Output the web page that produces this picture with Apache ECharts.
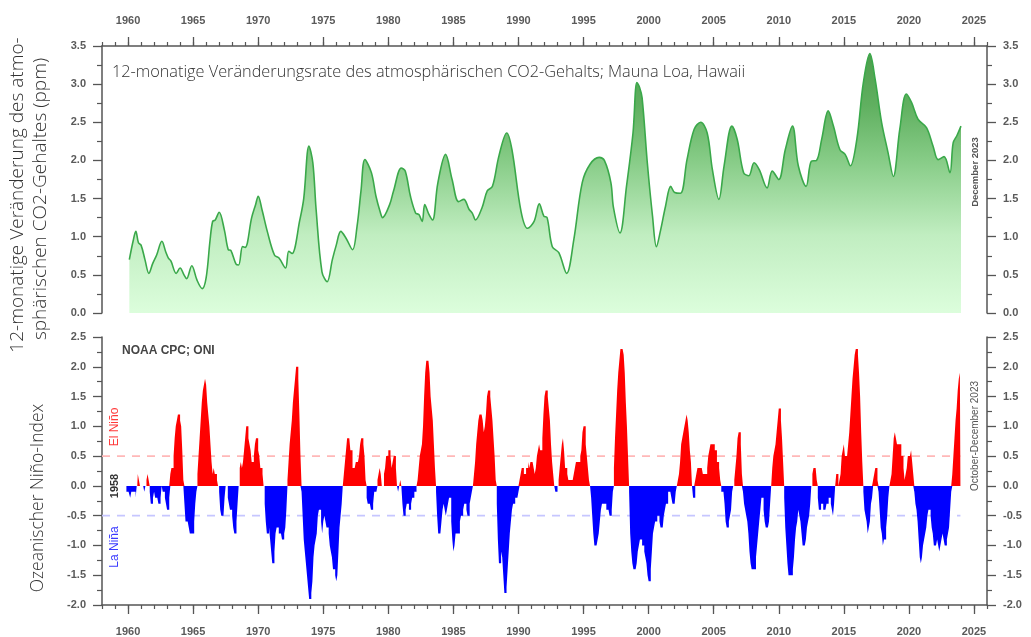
<!DOCTYPE html>
<html>
<head>
<meta charset="utf-8">
<script src="https://cdn.jsdelivr.net/npm/echarts@6/dist/echarts.min.js"></script>
<style>
html,body{margin:0;padding:0;background:#fff;}
#chart{width:1031px;height:637px;}
</style>
</head>
<body>
<div id="chart"></div>
<script>
// ---- Tick labels ----
const yearTicks = [1960,1965,1970,1975,1980,1985,1990,1995,2000,2005,2010,2015,2020,2025];
const xMin = 1958, xMax = 2026;

// ---- CO2 12-month growth rate, Mauna Loa (ppm/yr) ----
const co2Year = [1960.1,1960.4,1960.6,1960.8,1961.0,1961.3,1961.6,1961.9,1962.2,1962.6,1962.9,1963.1,1963.3,1963.7,1964.0,1964.3,1964.5,1964.9,1965.3,1965.7,1966.0,1966.3,1966.5,1966.7,1967.0,1967.4,1967.7,1967.9,1968.3,1968.5,1968.8,1969.0,1969.5,1969.8,1970.0,1970.3,1970.7,1971.25,1971.6,1972.1,1972.35,1972.6,1973.2,1973.5,1973.9,1974.2,1974.45,1974.9,1975.3,1975.7,1976.0,1976.35,1976.75,1977.25,1977.6,1977.9,1978.2,1978.7,1979.05,1979.4,1979.55,1980.1,1980.4,1981.0,1981.3,1981.7,1982.1,1982.35,1982.6,1982.8,1983.1,1983.4,1983.8,1984.4,1984.9,1985.4,1985.8,1986.2,1986.45,1986.7,1987.2,1987.6,1988.0,1988.5,1989.1,1989.5,1990.2,1990.7,1991.2,1991.6,1991.95,1992.2,1992.6,1993.1,1993.7,1994.25,1994.9,1995.5,1996.2,1996.6,1997.1,1997.3,1997.8,1998.3,1998.8,1999.1,1999.3,1999.5,1999.9,2000.3,2000.6,2000.9,2001.3,2001.7,2002.0,2002.45,2002.95,2003.5,2004.0,2004.5,2004.9,2005.4,2005.8,2006.4,2006.8,2007.3,2007.7,2008.1,2008.5,2009.1,2009.5,2010.0,2010.5,2011.05,2011.5,2012.1,2012.5,2012.9,2013.3,2013.8,2014.2,2014.7,2015.1,2015.5,2016.0,2016.5,2017.0,2017.4,2017.9,2018.4,2018.8,2019.3,2019.8,2020.2,2020.7,2021.35,2021.85,2022.25,2022.7,2023.15,2023.4,2023.7,2024.0];
const co2Rate = [0.70,0.95,1.07,0.92,0.89,0.70,0.52,0.65,0.76,0.94,0.80,0.72,0.68,0.52,0.59,0.50,0.45,0.62,0.43,0.32,0.46,0.95,1.20,1.22,1.32,1.09,0.83,0.82,0.64,0.63,0.87,0.86,1.25,1.42,1.53,1.35,1.07,0.76,0.72,0.59,0.81,0.78,1.22,1.50,2.19,1.97,1.36,0.54,0.41,0.70,0.89,1.07,0.98,0.83,1.14,1.60,2.01,1.84,1.53,1.31,1.25,1.42,1.60,1.90,1.86,1.53,1.31,1.29,1.20,1.42,1.30,1.22,1.70,2.08,1.75,1.46,1.49,1.36,1.31,1.22,1.38,1.60,1.66,2.06,2.36,2.14,1.33,1.11,1.20,1.43,1.27,1.25,0.87,0.79,0.52,0.96,1.71,1.95,2.04,2.00,1.71,1.38,1.05,1.66,2.36,3.02,2.96,2.82,1.97,1.27,0.87,1.07,1.40,1.66,1.58,1.57,2.01,2.41,2.50,2.36,1.88,1.49,1.93,2.45,2.28,1.84,1.80,1.97,1.88,1.64,1.86,1.75,2.14,2.45,1.93,1.66,1.99,2.00,2.28,2.65,2.45,2.14,2.08,1.93,2.28,3.02,3.40,3.07,2.50,2.10,1.79,2.41,2.87,2.76,2.54,2.43,2.19,2.01,2.05,1.84,2.23,2.33,2.45];

// ---- Oceanic Nino Index (3-month seasons), first value = SON 1959 ----
const oniFirstYear = 1959, oniFirstSeason = 9;
const oniValues = [
-0.1,-0.1,-0.1,
-0.1,-0.2,-0.1,-0.1,-0.1,-0.1,-0.2,0.0,0.2,0.1,0.0,0.0,
0.0,0.0,-0.1,0.0,0.1,0.2,0.1,-0.1,-0.3,-0.3,-0.2,-0.1,
-0.2,-0.2,-0.2,-0.3,-0.3,-0.2,0.0,-0.1,-0.1,-0.2,-0.3,-0.4,
-0.4,-0.2,0.2,0.3,0.3,0.5,0.8,1.0,1.1,1.2,1.2,1.1,
1.0,0.6,0.1,-0.3,-0.6,-0.6,-0.6,-0.7,-0.8,-0.8,-0.8,-0.8,
-0.6,-0.3,-0.1,0.2,0.5,0.8,1.1,1.4,1.6,1.7,1.8,1.7,
1.4,1.2,1.0,0.7,0.4,0.2,0.3,0.2,0.2,0.1,0.0,-0.1,
-0.4,-0.5,-0.5,-0.5,-0.2,0.0,0.0,-0.2,-0.3,-0.4,-0.4,-0.5,
-0.7,-0.8,-0.8,-0.6,-0.3,0.0,0.3,0.4,0.3,0.4,0.6,0.8,
1.0,1.0,0.8,0.7,0.6,0.4,0.4,0.5,0.7,0.8,0.8,0.6,
0.5,0.3,0.3,0.2,0.0,-0.3,-0.6,-0.8,-0.8,-0.7,-0.9,-1.1,
-1.3,-1.3,-1.1,-0.8,-0.7,-0.7,-0.8,-0.8,-0.8,-0.9,-0.9,-0.8,
-0.7,-0.4,0.1,0.4,0.7,0.9,1.1,1.4,1.6,1.8,2.0,2.0,
1.8,1.2,0.5,-0.1,-0.5,-0.9,-1.1,-1.3,-1.5,-1.7,-1.9,-1.9,
-1.8,-1.6,-1.2,-1.0,-0.9,-0.8,-0.5,-0.4,-0.4,-0.6,-0.8,-0.6,
-0.5,-0.6,-0.7,-0.7,-0.8,-1.0,-1.1,-1.2,-1.4,-1.4,-1.5,-1.6,
-1.5,-1.1,-0.7,-0.5,-0.3,0.0,0.2,0.4,0.6,0.8,0.8,0.8,
0.6,0.6,0.3,0.3,0.3,0.4,0.4,0.4,0.5,0.7,0.8,0.8,
0.7,0.5,0.1,-0.2,-0.3,-0.3,-0.3,-0.4,-0.4,-0.3,-0.1,-0.1,
-0.1,0.1,0.2,0.3,0.2,0.0,0.0,0.2,0.3,0.5,0.5,0.6,
0.6,0.5,0.3,0.4,0.5,0.5,0.3,0.0,-0.1,0.0,0.1,0.0,
-0.3,-0.5,-0.5,-0.4,-0.3,-0.3,-0.4,-0.4,-0.3,-0.2,-0.2,-0.1,
-0.1,0.0,0.1,0.3,0.5,0.6,0.7,1.0,1.5,1.9,2.1,2.1,
2.1,1.9,1.5,1.3,1.1,0.7,0.3,-0.1,-0.5,-0.8,-0.8,-0.8,
-0.6,-0.4,-0.3,-0.4,-0.5,-0.4,-0.3,-0.2,-0.2,-0.6,-0.9,-1.1,
-1.0,-0.8,-0.8,-0.8,-0.8,-0.6,-0.5,-0.5,-0.4,-0.3,-0.3,-0.4,
-0.5,-0.5,-0.3,-0.2,-0.1,0.0,0.2,0.4,0.7,0.9,1.1,1.2,
1.2,1.2,1.1,0.9,1.0,1.2,1.5,1.6,1.6,1.5,1.3,1.1,
0.8,0.5,0.1,-0.3,-0.9,-1.3,-1.3,-1.1,-1.2,-1.5,-1.8,-1.8,
-1.7,-1.4,-1.1,-0.8,-0.6,-0.4,-0.3,-0.3,-0.2,-0.2,-0.2,-0.1,
0.1,0.2,0.3,0.3,0.2,0.2,0.3,0.3,0.4,0.3,0.4,0.4,
0.4,0.3,0.2,0.3,0.5,0.6,0.7,0.6,0.6,0.8,1.2,1.5,
1.6,1.6,1.5,1.3,1.1,0.7,0.4,0.2,0.0,-0.1,-0.1,0.0,
0.1,0.3,0.5,0.7,0.8,0.6,0.3,0.3,0.2,0.1,0.1,0.1,
0.1,0.1,0.2,0.3,0.4,0.4,0.4,0.4,0.5,0.6,0.9,1.0,
1.0,0.7,0.5,0.3,0.1,0.0,-0.2,-0.5,-0.8,-1.0,-1.0,-1.0,
-0.9,-0.8,-0.6,-0.4,-0.3,-0.3,-0.3,-0.3,-0.4,-0.4,-0.4,-0.5,
-0.5,-0.4,-0.1,0.3,0.8,1.2,1.6,1.9,2.1,2.3,2.3,2.3,
2.2,1.9,1.4,1.0,0.5,-0.1,-0.8,-1.1,-1.3,-1.4,-1.4,-1.4,
-1.3,-1.1,-1.0,-0.9,-0.9,-1.0,-1.0,-1.1,-1.2,-1.3,-1.5,-1.6,
-1.6,-1.4,-1.1,-0.8,-0.7,-0.6,-0.6,-0.5,-0.5,-0.6,-0.7,-0.7,
-0.7,-0.5,-0.4,-0.3,-0.3,-0.1,-0.1,-0.1,-0.2,-0.3,-0.3,-0.3,
-0.1,0.0,0.1,0.2,0.4,0.7,0.8,0.9,1.0,1.1,1.2,1.1,
0.9,0.6,0.4,0.0,-0.2,-0.2,0.1,0.2,0.3,0.3,0.3,0.3,
0.3,0.2,0.2,0.2,0.2,0.3,0.5,0.6,0.7,0.7,0.7,0.7,
0.6,0.6,0.4,0.4,0.3,0.1,-0.1,-0.1,-0.1,-0.3,-0.6,-0.7,
-0.7,-0.6,-0.5,-0.4,-0.1,0.0,0.1,0.3,0.5,0.8,0.9,0.9,
0.7,0.2,-0.1,-0.3,-0.4,-0.5,-0.6,-0.8,-1.1,-1.3,-1.4,-1.4,
-1.4,-1.4,-1.2,-1.0,-0.8,-0.6,-0.4,-0.2,-0.2,-0.4,-0.6,-0.7,
-0.7,-0.7,-0.6,-0.3,0.0,0.3,0.5,0.6,0.7,0.9,1.1,1.3,
1.3,1.1,0.8,0.4,-0.2,-0.7,-1.0,-1.3,-1.5,-1.5,-1.5,-1.5,
-1.4,-1.2,-0.9,-0.7,-0.6,-0.4,-0.5,-0.6,-0.8,-1.0,-1.0,-1.0,
-0.9,-0.7,-0.6,-0.5,-0.3,0.0,0.2,0.3,0.3,0.3,0.1,-0.2,
-0.4,-0.4,-0.3,-0.3,-0.4,-0.4,-0.4,-0.3,-0.3,-0.2,-0.2,-0.3,
-0.4,-0.5,-0.3,0.0,0.2,0.2,0.0,0.1,0.2,0.5,0.6,0.7,
0.5,0.5,0.5,0.7,0.9,1.2,1.5,1.8,2.0,2.2,2.3,2.3,
2.2,1.9,1.5,0.9,0.4,-0.1,-0.4,-0.5,-0.6,-0.8,-0.7,-0.6,
-0.3,-0.2,0.1,0.2,0.3,0.3,0.1,-0.1,-0.4,-0.7,-0.8,-1.0,
-0.9,-0.9,-0.7,-0.5,-0.2,0.0,0.1,0.2,0.5,0.8,0.9,0.8,
0.7,0.7,0.7,0.7,0.5,0.5,0.3,0.1,0.2,0.3,0.5,0.5,
0.5,0.6,0.4,0.2,-0.1,-0.3,-0.4,-0.6,-0.9,-1.2,-1.3,-1.2,
-1.0,-0.9,-0.8,-0.7,-0.5,-0.4,-0.4,-0.5,-0.7,-0.8,-1.0,-1.0,
-1.0,-0.9,-1.0,-1.1,-1.0,-0.9,-0.8,-0.9,-1.0,-1.0,-0.9,-0.8,
-0.7,-0.4,-0.1,0.2,0.5,0.8,1.1,1.3,1.6,1.8,1.9
];
const oniThresholds = [0.5, -0.5];

// ---- build series data ----
const co2Data = co2Year.map((y, i) => [y, co2Rate[i]]);
const oniTime = oniValues.map((v, i) => oniFirstYear + (oniFirstSeason + i + 1.5) / 12);
const oniPos = oniValues.map((v, i) => [oniTime[i], v > 0 ? v : 0]);
const oniNeg = oniValues.map((v, i) => [oniTime[i], v < 0 ? v : 0]);
const oniEnd = oniTime[oniTime.length - 1];
const everyYear = [];
for (let y = xMin; y <= xMax; y++) everyYear.push(y);

const FONT = '"Liberation Sans", Arial, sans-serif';
const LIGHT = '"Open Sans", "Noto Sans", sans-serif';
const AX = '#555';
const lblStyle = { color: '#5a5a5a', fontFamily: FONT, fontSize: 11, fontWeight: 'bold' };

function xMajor(grid, pos, margin) {
  return {
    gridIndex: grid, type: 'value', min: xMin, max: xMax, position: pos,
    axisLine: { show: true, onZero: false, lineStyle: { color: AX, width: 1.5 } },
    axisTick: { show: true, length: 9, customValues: yearTicks, lineStyle: { color: AX, width: 1.3 } },
    axisLabel: Object.assign({ show: true, margin: margin, customValues: yearTicks, formatter: v => String(v) }, lblStyle),
    splitLine: { show: false }
  };
}
function xMinor(grid, pos) {
  return {
    gridIndex: grid, type: 'value', min: xMin, max: xMax, position: pos,
    axisLine: { show: false, onZero: false },
    axisTick: { show: true, length: 4, customValues: everyYear, lineStyle: { color: AX, width: 1.2 } },
    axisLabel: { show: false },
    splitLine: { show: false }
  };
}
function yAx(grid, pos, min, max) {
  return {
    gridIndex: grid, type: 'value', min: min, max: max, interval: 0.5, position: pos,
    axisLine: { show: true, onZero: false, lineStyle: { color: AX, width: 1.5 } },
    axisTick: { show: true, length: 9, lineStyle: { color: AX, width: 1.3 } },
    minorTick: { show: true, splitNumber: 2, length: 5, lineStyle: { color: AX, width: 1.2 } },
    axisLabel: Object.assign({ margin: 16, formatter: v => v.toFixed(1) }, lblStyle),
    splitLine: { show: false }, minorSplitLine: { show: false }
  };
}
function oniArea(data, col) {
  return {
    type: 'line', xAxisIndex: 2, yAxisIndex: 2, data: data, z: 3,
    step: 'middle', showSymbol: false, silent: true,
    lineStyle: { width: 0, color: col },
    areaStyle: { color: col, opacity: 1 }
  };
}
function threshold(v, col) {
  return {
    type: 'line', xAxisIndex: 2, yAxisIndex: 2, z: 1, silent: true, showSymbol: false,
    data: [[xMin, v], [oniEnd, v]],
    lineStyle: { color: col, type: [8, 7], width: 1.8 }
  };
}

const chart = echarts.init(document.getElementById('chart'), null, { renderer: 'canvas' });
chart.setOption({
  animation: false,
  backgroundColor: '#fff',
  grid: [
    { left: 102, right: 44, top: 46, height: 267 },
    { left: 102, right: 44, top: 337, height: 268 }
  ],
  xAxis: [xMajor(0, 'top', 20), xMinor(0, 'top'), xMajor(1, 'bottom', 21), xMinor(1, 'bottom')],
  yAxis: [yAx(0, 'left', 0, 3.5), yAx(0, 'right', 0, 3.5), yAx(1, 'left', -2, 2.5), yAx(1, 'right', -2, 2.5)],
  series: [
    {
      type: 'line', xAxisIndex: 0, yAxisIndex: 0, data: co2Data,
      showSymbol: false, smooth: 0.35,
      lineStyle: { color: '#3aa84a', width: 1.6 },
      areaStyle: {
        origin: 'start',
        color: new echarts.graphic.LinearGradient(0, 0, 0, 1, [
          { offset: 0, color: '#007400' },
          { offset: 0.2, color: '#1c8e1c' },
          { offset: 0.4, color: '#50b450' },
          { offset: 0.7, color: '#a6e6a6' },
          { offset: 1, color: '#cdfdcd' }
        ])
      }
    },
    threshold(oniThresholds[0], '#ffb8b8'),
    threshold(oniThresholds[1], '#c6c6ff'),
    oniArea(oniPos, '#ff0000'),
    oniArea(oniNeg, '#0000ff')
  ],
  graphic: [
    { type: 'text', left: 112, top: 64, style: { text: '12-monatige Veränderungsrate des atmosphärischen CO2-Gehalts; Mauna Loa, Hawaii', fill: '#333', font: '300 16.3px ' + LIGHT } },
    { type: 'text', left: 122, top: 345, style: { text: 'NOAA CPC; ONI', fill: '#444', font: 'bold 12px ' + FONT } },
    { type: 'text', x: 18, y: 195, rotation: Math.PI / 2, style: { text: '12-monatige Veränderung des atmo-', fill: '#333', font: '300 19px ' + LIGHT, align: 'center', verticalAlign: 'middle' } },
    { type: 'text', x: 41, y: 199, rotation: Math.PI / 2, style: { text: 'sphärischen CO2-Gehaltes (ppm)', fill: '#333', font: '300 19px ' + LIGHT, align: 'center', verticalAlign: 'middle' } },
    { type: 'text', x: 38, y: 498, rotation: Math.PI / 2, style: { text: 'Ozeanischer Niño-Index', fill: '#333', font: '300 17.5px ' + LIGHT, align: 'center', verticalAlign: 'middle' } },
    { type: 'text', x: 115, y: 427, rotation: Math.PI / 2, style: { text: 'El Niño', fill: '#ff3a3a', font: '12px ' + FONT, align: 'center', verticalAlign: 'middle' } },
    { type: 'text', x: 115, y: 486, rotation: Math.PI / 2, style: { text: '1958', fill: '#333', font: 'bold 11px ' + FONT, align: 'center', verticalAlign: 'middle' } },
    { type: 'text', x: 115, y: 547, rotation: Math.PI / 2, style: { text: 'La Niña', fill: '#3a3aff', font: '12px ' + FONT, align: 'center', verticalAlign: 'middle' } },
    { type: 'text', x: 975, y: 172, rotation: Math.PI / 2, style: { text: 'December 2023', fill: '#555', font: 'bold 9.5px ' + FONT, align: 'center', verticalAlign: 'middle' } },
    { type: 'text', x: 975, y: 436, rotation: Math.PI / 2, style: { text: 'October-December 2023', fill: '#555', font: '10px ' + FONT, align: 'center', verticalAlign: 'middle' } }
  ]
});
</script>
</body>
</html>
